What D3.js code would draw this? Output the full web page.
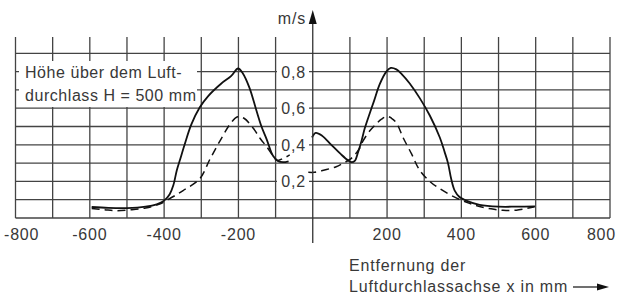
<!DOCTYPE html>
<html><head><meta charset="utf-8">
<script src="https://cdn.jsdelivr.net/npm/d3@7"></script>
<style>body{margin:0;background:#fff}svg{display:block}text{font-family:"Liberation Sans",Arial,sans-serif;fill:#383838}</style>
</head><body>
<script>
// ---- data ----
const xTicks = [-800,-600,-400,-200,200,400,600,800];
const xTickLabels = ["-800","-600","-400","-200","200","400","600","800"];
const yTicks = [0.2,0.4,0.6,0.8];
const yTickLabels = ["0,2","0,4","0,6","0,8"];
const gridX = [-800,-700,-600,-500,-400,-300,-200,-100,100,200,300,400,500,600,700,800];
const gridY = [0,0.1,0.2,0.3,0.4,0.5,0.6,0.7,0.8,0.9];

const solidLeftX = [-595,-550,-500,-450,-420,-400,-385,-375,-366,-357,-345,-327,-304,-282,-246,-220,-201,-188,-170,-152,-138,-124,-107,-93,-80,-65];
const solidLeftY = [0.06,0.055,0.054,0.062,0.075,0.095,0.13,0.18,0.26,0.32,0.40,0.51,0.605,0.665,0.735,0.775,0.817,0.79,0.71,0.59,0.50,0.43,0.34,0.31,0.305,0.31];
const dashLeftX = [-595,-560,-530,-490,-450,-412,-390,-349,-304,-277,-250,-220,-202,-185,-160,-140,-124,-107,-95,-80,-62];
const dashLeftY = [0.052,0.045,0.04,0.045,0.055,0.076,0.10,0.15,0.215,0.32,0.42,0.52,0.553,0.545,0.49,0.43,0.39,0.34,0.315,0.325,0.345];
const solidMidX = [-2,8,25,50,75,95,105,113,122,131,140,153,165,180,198,210,225,240,261,288,315,342,355,364,373,382,395,413,449,500,550,598];
const solidMidY = [0.44,0.465,0.45,0.40,0.35,0.315,0.305,0.312,0.36,0.42,0.49,0.57,0.64,0.73,0.80,0.82,0.812,0.785,0.735,0.655,0.56,0.44,0.36,0.30,0.21,0.15,0.115,0.095,0.072,0.062,0.062,0.063];
const dashMidX = [-12,5,37,63,82,100,113,126,135,153,171,185,200,212,225,243,266,288,315,342,386,422,449,480,512,548,597];
const dashMidY = [0.25,0.25,0.265,0.28,0.30,0.32,0.345,0.38,0.42,0.475,0.515,0.54,0.555,0.545,0.52,0.44,0.35,0.26,0.20,0.16,0.11,0.08,0.063,0.05,0.042,0.043,0.062];

// ---- chart ----
const W = 620, H = 300;
const svg = d3.select("body").append("svg").attr("width", W).attr("height", H);
const x = d3.scaleLinear().domain([-800, 800]).range([15.5, 610]);
const y = d3.scaleLinear().domain([0, 0.9]).range([218, 53.3]);
const gridTop = 37;
const gridColor = "#444";

const g = svg.append("g");
g.selectAll("line.h").data(gridY).join("line")
  .attr("x1", x(-800)).attr("x2", x(800))
  .attr("y1", d => y(d)).attr("y2", d => y(d))
  .attr("stroke", gridColor).attr("stroke-width", 1.3);
g.selectAll("line.v").data(gridX).join("line")
  .attr("x1", d => x(d)).attr("x2", d => x(d))
  .attr("y1", y(0)).attr("y2", gridTop)
  .attr("stroke", gridColor).attr("stroke-width", 1.3);

// label box
svg.append("rect").attr("x", 19).attr("y", 61).attr("width", 178).attr("height", 46).attr("fill", "#fff");
const lab = svg.append("text").attr("font-size", 16).attr("letter-spacing", 0.55);
lab.append("tspan").attr("x", 25).attr("y", 77.5).text("Höhe über dem Luft-");
lab.append("tspan").attr("x", 25).attr("y", 100.5).text("durchlass H = 500 mm");

// curves
const line = d3.line().x(d => x(d[0])).y(d => y(d[1])).curve(d3.curveCatmullRom.alpha(0.5));
const zip = (a, b) => a.map((v, i) => [v, b[i]]);
const curves = [
  {d: zip(solidLeftX, solidLeftY), dash: null},
  {d: zip(solidMidX, solidMidY), dash: null},
  {d: zip(dashLeftX, dashLeftY), dash: "8,5"},
  {d: zip(dashMidX, dashMidY), dash: "8,5"}
];
svg.selectAll("path.c").data(curves).join("path")
  .attr("d", c => line(c.d)).attr("fill", "none")
  .attr("stroke", "#111").attr("stroke-width", c => c.dash ? 1.5 : 1.8)
  .attr("stroke-dasharray", c => c.dash);

// y tick labels with white backgrounds
const yl = svg.append("g");
yl.selectAll("rect").data(yTicks).join("rect")
  .attr("x", 277).attr("y", d => y(d) - 8).attr("width", 32).attr("height", 16).attr("fill", "#fff");
yl.selectAll("text").data(yTicks).join("text")
  .attr("x", 306).attr("y", d => y(d) + 6).attr("text-anchor", "end")
  .attr("font-size", 16).attr("letter-spacing", 0.8)
  .text((d, i) => yTickLabels[i]);

// y axis with arrow
svg.append("line").attr("x1", x(0)).attr("x2", x(0)).attr("y1", 243).attr("y2", 22)
  .attr("stroke", "#333").attr("stroke-width", 1.3);
svg.append("path").attr("d", `M${x(0)},10 L${x(0)-4},24 L${x(0)+4},24 Z`).attr("fill", "#111");
svg.append("text").attr("x", 306).attr("y", 24).attr("text-anchor", "end")
  .attr("font-size", 16).attr("letter-spacing", 0.8).text("m/s");

// x tick labels
svg.selectAll("text.xt").data(xTicks).join("text")
  .attr("class", "xt")
  .attr("x", d => d === -800 ? 4 : d === 800 ? 616 : x(d))
  .attr("y", 240)
  .attr("text-anchor", d => d === -800 ? "start" : d === 800 ? "end" : "middle")
  .attr("font-size", 16).attr("letter-spacing", 0.8)
  .text((d, i) => xTickLabels[i]);

// x axis title with arrow
const xt = svg.append("text").attr("font-size", 16).attr("letter-spacing", 0.8);
xt.append("tspan").attr("x", 349).attr("y", 271).text("Entfernung der");
xt.append("tspan").attr("x", 349).attr("y", 292).text("Luftdurchlassachse x in mm");
svg.append("line").attr("x1", 573).attr("x2", 600).attr("y1", 287).attr("y2", 287)
  .attr("stroke", "#111").attr("stroke-width", 1.2);
svg.append("path").attr("d", "M609,287 L597,283.5 L597,290.5 Z").attr("fill", "#111");
</script>
</body></html>
